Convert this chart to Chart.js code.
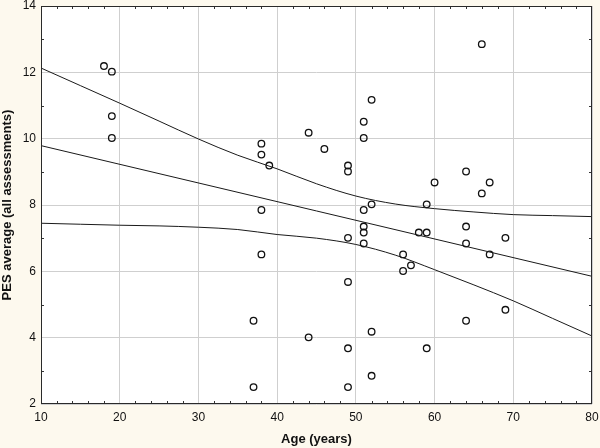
<!DOCTYPE html>
<html><head><meta charset="utf-8">
<script src="https://cdn.jsdelivr.net/npm/chart.js@4.4.0/dist/chart.umd.min.js"></script>
<style>html,body{margin:0;padding:0;background:#fdf9ee;}#wrap{width:600px;height:448px;position:relative;}</style>
</head><body><div id="wrap"><canvas id="c" width="600" height="448"></canvas></div>
<script>
// Observed data: age (years) and PES average
const ages = [18,19,19,19,37,37,38,38,39,38,38,44,44,46,49,49,49,49,49,49,51,51,51,51,51,51,52,52,52,52,56,56,57,58,59,59,59,60,64,64,64,64,66,66,67,67,69,69];
const pes  = [12.19,12.02,10.68,10.02,4.51,2.51,9.85,9.52,9.19,7.85,6.51,10.18,4.01,9.69,9.19,9.01,7.01,5.68,3.68,2.51,10.51,10.02,7.85,7.35,7.17,6.84,11.17,8.02,4.18,2.85,6.51,6.01,6.18,7.17,7.17,8.02,3.68,8.68,9.01,7.35,6.84,4.51,12.85,8.35,8.68,6.51,7.01,4.84];
// Regression line (read at the plot edges)
const fitX = [10, 80];
const fitY = [9.79, 5.85];
// Confidence band curves
const bandX  = [10,15,20,25,30,35,40,45,50,55,60,65,70,75,80];
const upperY = [12.13,11.60,11.07,10.53,9.99,9.50,9.09,8.64,8.27,8.03,7.89,7.79,7.71,7.68,7.65];
const lowerY = [7.45,7.42,7.39,7.37,7.33,7.26,7.11,7.00,6.81,6.49,6.05,5.59,5.11,4.58,4.05];
// Axis ticks
const xTickValues = [10,20,30,40,50,60,70,80];
const xTickLabels = ['10','20','30','40','50','60','70','80'];
const yTickValues = [2,4,6,8,10,12,14];
const yTickLabels = ['2','4','6','8','10','12','14'];
const xMinorTicks = [12,14,16,18,22,24,26,28,32,34,36,38,42,44,46,48,52,54,56,58,62,64,66,68,72,74,76,78];
const yMinorTicks = [3,5,7,9,11,13];

const FONT = "'Liberation Sans', Arial, sans-serif";
const BG = '#fdf9ee';

const frame = {
  id: 'frame',
  beforeDraw(chart) {
    const {ctx, chartArea: a} = chart;
    ctx.save();
    ctx.fillStyle = BG;
    ctx.fillRect(0, 0, chart.width, chart.height);
    ctx.fillStyle = '#ffffff';
    ctx.fillRect(a.left, a.top, a.right - a.left, a.bottom - a.top);
    ctx.restore();
  },
  afterDraw(chart) {
    const {ctx, chartArea: a, scales} = chart;
    const xs = scales.x, ys = scales.y;
    ctx.save();
    ctx.strokeStyle = '#333';
    ctx.lineWidth = 1;
    ctx.beginPath();
    xMinorTicks.forEach(v => {
      const px = Math.round(xs.getPixelForValue(v)) + 0.5;
      ctx.moveTo(px, a.bottom); ctx.lineTo(px, a.bottom - 3);
      ctx.moveTo(px, a.top); ctx.lineTo(px, a.top + 3);
    });
    yMinorTicks.forEach(v => {
      const py = Math.round(ys.getPixelForValue(v)) + 0.5;
      ctx.moveTo(a.left, py); ctx.lineTo(a.left + 3, py);
      ctx.moveTo(a.right, py); ctx.lineTo(a.right - 3, py);
    });
    ctx.stroke();
    ctx.strokeStyle = '#2a2a2a';
    ctx.strokeRect(Math.round(a.left) + 0.5, Math.round(a.top) + 0.5, Math.round(a.right - a.left) - 1, Math.round(a.bottom - a.top) - 1);
    ctx.restore();
  }
};

const lineStyle = {type: 'line', borderColor: '#1a1a1a', borderWidth: 1, pointRadius: 0, fill: false};

new Chart(document.getElementById('c'), {
  data: {
    datasets: [
      Object.assign({data: bandX.map((x, i) => ({x, y: upperY[i]})), cubicInterpolationMode: 'monotone'}, lineStyle),
      Object.assign({data: fitX.map((x, i) => ({x, y: fitY[i]}))}, lineStyle),
      Object.assign({data: bandX.map((x, i) => ({x, y: lowerY[i]})), cubicInterpolationMode: 'monotone'}, lineStyle),
      {
        type: 'scatter',
        data: ages.map((x, i) => ({x, y: pes[i]})),
        pointStyle: 'circle', pointRadius: 3.3, pointBorderWidth: 1.3,
        borderColor: '#111', backgroundColor: 'rgba(255,255,255,0)',
        pointBorderColor: '#111', pointBackgroundColor: 'rgba(255,255,255,0)'
      }
    ]
  },
  options: {
    responsive: false, animation: false, devicePixelRatio: 1,
    layout: {padding: {left: 0, right: 8, top: 6, bottom: 0}},
    plugins: {legend: {display: false}, tooltip: {enabled: false}},
    scales: {
      x: {
        type: 'linear', min: 10, max: 80,
        afterBuildTicks: s => { s.ticks = xTickValues.map(v => ({value: v})); },
        afterFit: s => { s.height = 44; s.paddingLeft = 0; s.paddingRight = 0; },
        ticks: {padding: 6, color: '#111', font: {family: FONT, size: 12},
          callback: (v, i) => xTickLabels[i]},
        grid: {color: '#cfcfcf', lineWidth: 1, drawTicks: false},
        border: {display: false},
        title: {display: true, text: 'Age (years)', color: '#111',
          font: {family: FONT, size: 13, weight: 'bold', lineHeight: 1.1},
          padding: {top: 0, bottom: 1.5}}
      },
      y: {
        type: 'linear', min: 2, max: 14,
        afterBuildTicks: s => { s.ticks = yTickValues.map(v => ({value: v})); },
        afterFit: s => { s.width = 41; s.paddingTop = 0; s.paddingBottom = 0; },
        ticks: {padding: 5, color: '#111', font: {family: FONT, size: 12},
          callback: (v, i) => yTickLabels[i]},
        grid: {color: '#cfcfcf', lineWidth: 1, drawTicks: false},
        border: {display: false},
        title: {display: true, text: 'PES average (all assessments)', color: '#111',
          font: {family: FONT, size: 13, weight: 'bold', lineHeight: 1.1},
          padding: {top: 0, bottom: 0}}
      }
    }
  },
  plugins: [frame]
});
</script>
</body></html>
